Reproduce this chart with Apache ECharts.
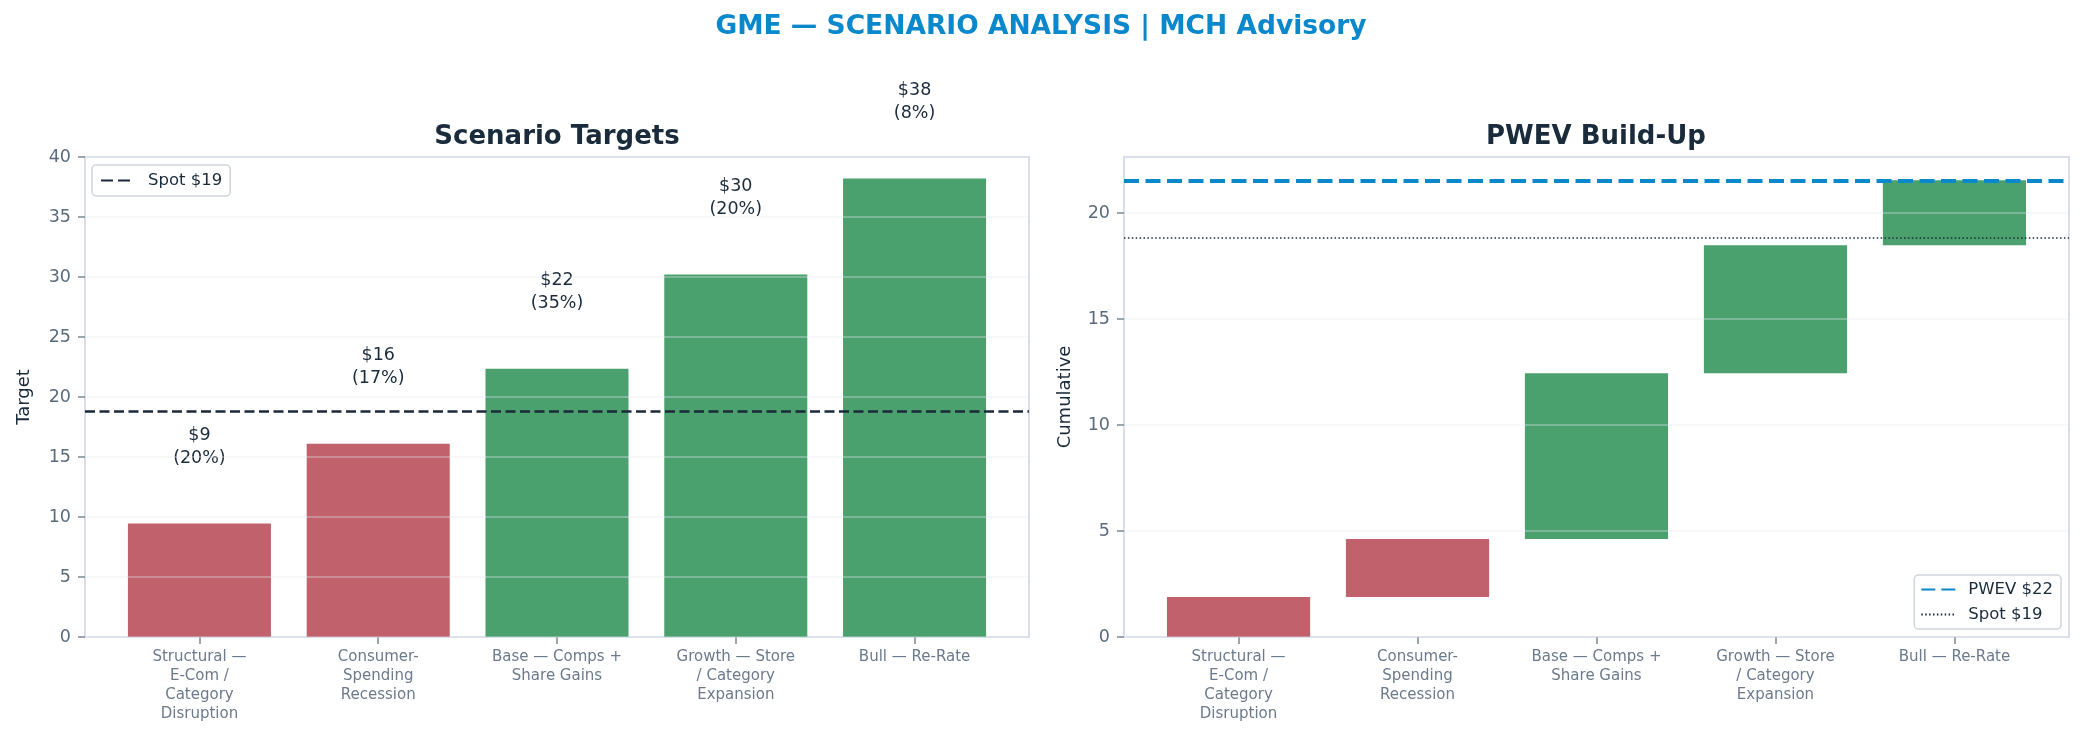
<!DOCTYPE html>
<html><head><meta charset="utf-8">
<script src="https://cdn.jsdelivr.net/npm/echarts@6/dist/echarts.min.js"></script>
<style>html,body{margin:0;padding:0;background:#fff}#c{width:2084px;height:742px}</style>
</head><body><div id="c"></div>
<script>
// ---- data ----
const categories = [
  "Structural —\nE-Com /\nCategory\nDisruption",
  "Consumer-\nSpending\nRecession",
  "Base — Comps +\nShare Gains",
  "Growth — Store\n/ Category\nExpansion",
  "Bull — Re-Rate"
];
const targets = [9.45, 16.1, 22.35, 30.2, 38.2];
const probabilities = [20, 17, 35, 20, 8];
const contributions = [1.89, 2.74, 7.82, 6.04, 3.06];
const spotPrice = 18.85;
const pwevValue = 21.55;
const leftYTicks = [0, 5, 10, 15, 20, 25, 30, 35, 40];
const rightYTicks = [0, 5, 10, 15, 20];
const categoryTicks = [0, 1, 2, 3, 4];

// ---- styles ----
const FONT = 'DejaVu Sans';
const RED = '#c0616b';
const GREEN = '#4aa16e';
const DARK = '#1a2b3c';
const TICKC = '#5a6b7d';
const SPINE = '#d9dfe8';
const BLUE = '#0a88cc';
const colorFor = (i) => targets[i] < spotPrice ? RED : GREEN;

// waterfall rows: [x, start, end]
const waterfall = [];
let run = 0;
contributions.forEach((c, i) => { waterfall.push([categoryTicks[i], run, run + c]); run += c; });

const chart = echarts.init(document.getElementById('c'), null, {renderer: 'canvas'});

function xAxisFor(gi) {
  return {
    type: 'value', gridIndex: gi, min: -0.64, max: 4.64,
    splitLine: {show: false},
    axisLine: {show: true, onZero: false, lineStyle: {color: SPINE, width: 2}},
    axisTick: {show: true, customValues: categoryTicks, length: 7, lineStyle: {color: '#7c8998', width: 1.5}},
    axisLabel: {
      customValues: categoryTicks, margin: 11,
      formatter: v => categories[Math.round(v)] || '',
      fontFamily: FONT, fontSize: 15, lineHeight: 19, color: '#6b7a8c', align: 'center', verticalAlign: 'top'
    }
  };
}
function yAxisFor(gi, max, ticks, name, gap) {
  return {
    type: 'value', gridIndex: gi, min: 0, max: max, interval: 5, z: 3,
    name: name, nameLocation: 'middle', nameGap: gap, nameRotate: 90,
    nameTextStyle: {fontFamily: FONT, fontSize: 18, color: DARK},
    axisLine: {show: true, onZero: false, lineStyle: {color: SPINE, width: 2}},
    axisTick: {show: true, customValues: ticks, length: 7, lineStyle: {color: '#7c8998', width: 1.5}},
    axisLabel: {customValues: ticks, margin: 14, fontFamily: FONT, fontSize: 17.5, color: TICKC},
    splitLine: {show: true, lineStyle: {color: 'rgba(226,231,237,0.45)', width: 1.5}}
  };
}
const legendCommon = {
  backgroundColor: '#fff', borderColor: '#cfd5db', borderWidth: 1.5, borderRadius: 4,
  itemWidth: 34, itemHeight: 14, orient: 'vertical',
  itemStyle: {color: 'rgba(0,0,0,0)', borderWidth: 0, opacity: 0},
  formatter: n => n.trim(),
  textStyle: {fontFamily: FONT, fontSize: 16.5, color: DARK, padding: [0, 0, 0, 8]}
};

const option = {
  backgroundColor: '#ffffff',
  animation: false,
  title: [
    {text: 'GME — SCENARIO ANALYSIS | MCH Advisory', left: 1041, top: 14, textAlign: 'center', padding: 0,
     textStyle: {fontFamily: FONT, fontSize: 26.5, fontWeight: 'bold', color: BLUE}},
    {text: 'Scenario Targets', left: 557, top: 124, textAlign: 'center', padding: 0,
     textStyle: {fontFamily: FONT, fontSize: 26, fontWeight: 'bold', color: DARK}},
    {text: 'PWEV Build-Up', left: 1596, top: 124, textAlign: 'center', padding: 0,
     textStyle: {fontFamily: FONT, fontSize: 26, fontWeight: 'bold', color: DARK}}
  ],
  grid: [
    {left: 85, right: 1055, top: 157, bottom: 105, show: true, borderColor: SPINE, borderWidth: 2, backgroundColor: 'transparent'},
    {left: 1124, right: 15, top: 157, bottom: 105, show: true, borderColor: SPINE, borderWidth: 2, backgroundColor: 'transparent'}
  ],
  legend: [
    Object.assign({}, legendCommon, {data: ['Spot $19'], left: 92, top: 165, padding: [7, 8, 7, 8], itemGap: 8}),
    Object.assign({}, legendCommon, {data: ['PWEV $22', 'Spot $19 '], right: 23, bottom: 113, padding: [6, 8, 6, 6], itemGap: 8})
  ],
  xAxis: [xAxisFor(0), xAxisFor(1)],
  yAxis: [yAxisFor(0, 40, leftYTicks, 'Target', 52), yAxisFor(1, 22.65, rightYTicks, 'Cumulative', 50)],
  series: [
    {
      type: 'bar', name: 'Targets', xAxisIndex: 0, yAxisIndex: 0, barWidth: '80%',
      data: targets.map((v, i) => ({value: [categoryTicks[i], v], itemStyle: {color: colorFor(i)}})),
      label: {
        show: true, position: 'top', distance: 54,
        formatter: p => '$' + Math.round(targets[p.dataIndex]) + '\n(' + probabilities[p.dataIndex] + '%)',
        fontFamily: FONT, fontSize: 17.5, lineHeight: 23, color: DARK, align: 'center'
      },
      markLine: {
        silent: true, symbol: ['none', 'none'], label: {show: false},
        lineStyle: {color: '#1b2a3a', type: [10, 4.5], width: 2.7},
        data: [{yAxis: spotPrice}]
      }
    },
    {type: 'line', name: 'Spot $19', xAxisIndex: 0, yAxisIndex: 0, data: [], symbol: 'none',
     lineStyle: {color: '#1b2a3a', type: [12, 5], width: 2.7}, itemStyle: {color: '#1b2a3a'}},
    {
      type: 'custom', name: 'PWEV contributions', xAxisIndex: 1, yAxisIndex: 1,
      data: waterfall,
      encode: {x: 0, y: [1, 2]},
      renderItem: (params, api) => {
        const x = api.value(0);
        const p0 = api.coord([x, api.value(1)]);
        const p1 = api.coord([x, api.value(2)]);
        const bw = api.size([0.8, 0])[0];
        return {
          type: 'rect',
          shape: {x: p0[0] - bw / 2, y: p1[1], width: bw, height: p0[1] - p1[1]},
          style: {fill: colorFor(params.dataIndex)}
        };
      },
      markLine: {
        silent: true, symbol: ['none', 'none'], label: {show: false},
        data: [
          {yAxis: pwevValue, lineStyle: {color: BLUE, type: [15, 6.5], width: 4.2}},
          {yAxis: spotPrice, lineStyle: {color: '#1b2a3a', type: [1.5, 2.4], width: 1.6}}
        ]
      }
    },
    {type: 'line', name: 'PWEV $22', xAxisIndex: 1, yAxisIndex: 1, data: [], symbol: 'none',
     lineStyle: {color: BLUE, type: [14, 6], width: 4.2}, itemStyle: {color: BLUE}},
    {type: 'line', name: 'Spot $19 ', xAxisIndex: 1, yAxisIndex: 1, data: [], symbol: 'none',
     lineStyle: {color: '#1b2a3a', type: [1.5, 2.4], width: 1.6}, itemStyle: {color: '#1b2a3a'}}
  ]
};
chart.setOption(option);
</script>
</body></html>
